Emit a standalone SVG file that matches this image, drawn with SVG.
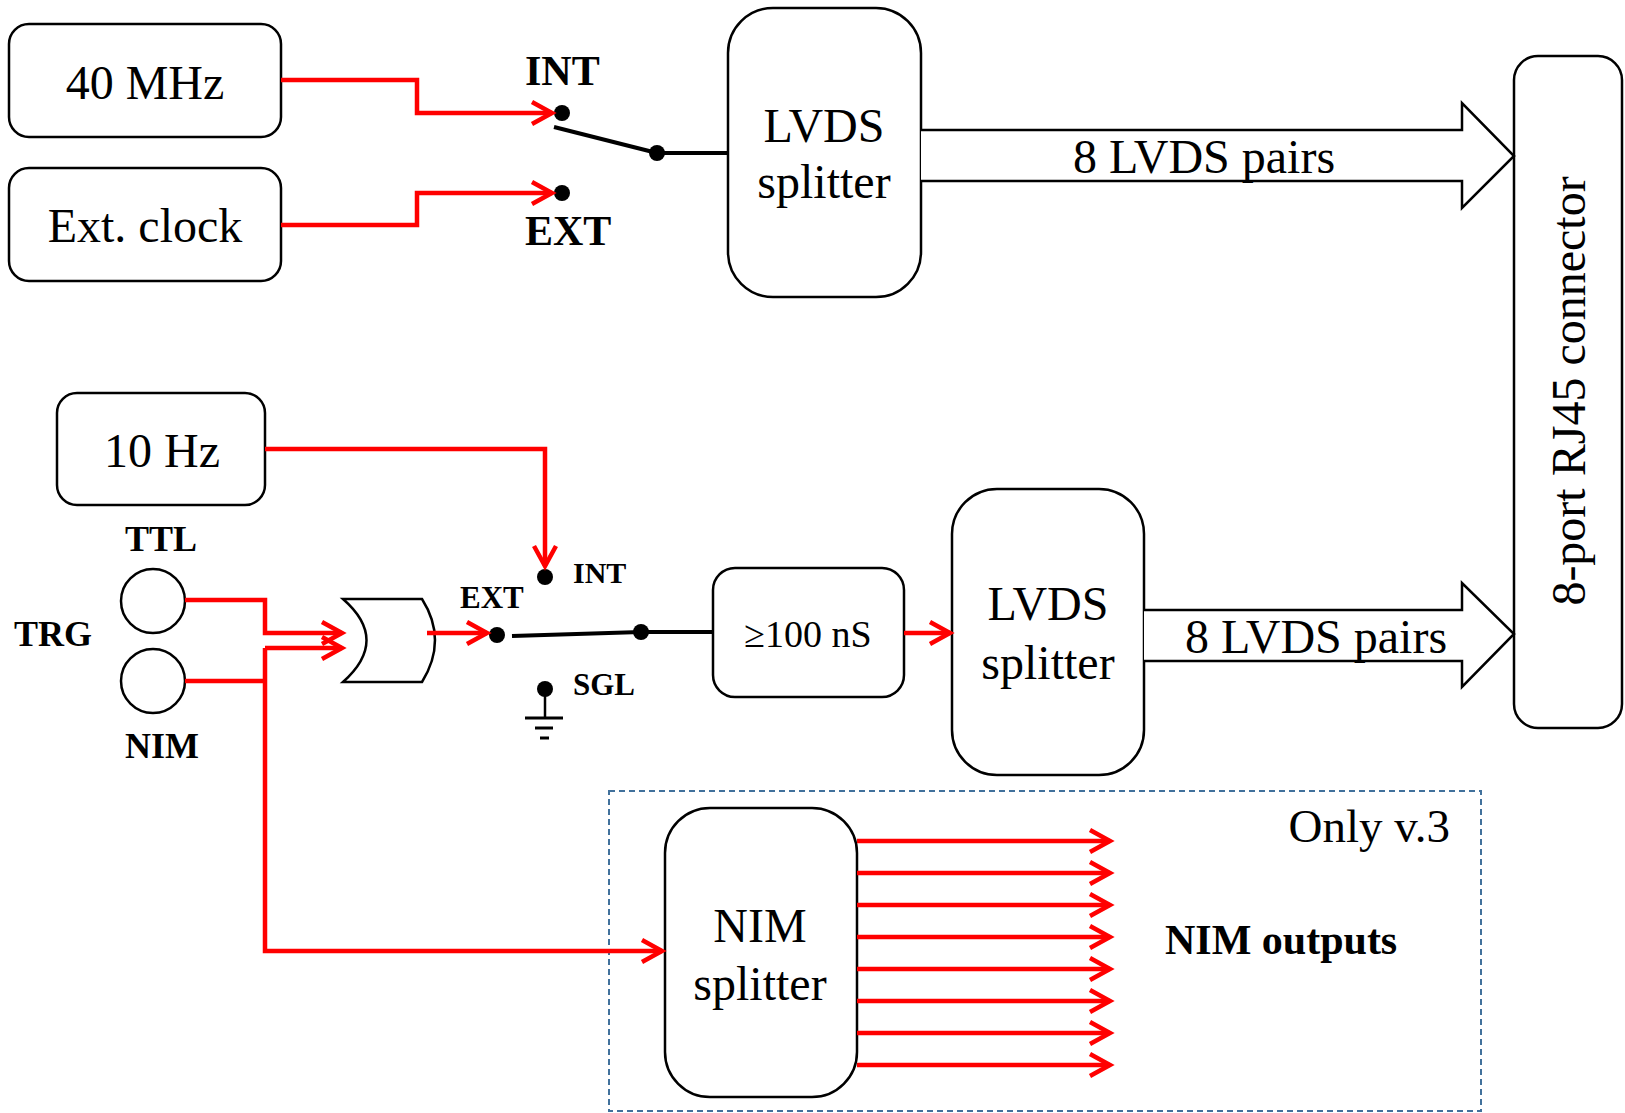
<svg xmlns="http://www.w3.org/2000/svg" width="1625" height="1113" viewBox="0 0 1625 1113">
<defs>
<style>
.box{fill:#fff;stroke:#000;stroke-width:2.5}
.t{font-family:"Liberation Serif","Times New Roman",serif;fill:#000}
.b{font-weight:bold}
.red{fill:none;stroke:#ff0000;stroke-width:4.5}
.ra{fill:none;stroke:#ff0000;stroke-width:4.5;marker-end:url(#ah)}
.blk{fill:none;stroke:#000;stroke-width:4}
.dot{fill:#000}
.big{fill:#fff;stroke:#000;stroke-width:2.5}
</style>
<marker id="ah" markerUnits="userSpaceOnUse" markerWidth="30" markerHeight="30" viewBox="-24 -15 30 30" refX="0" refY="0" orient="auto">
<path d="M-20,-11 L0,0 L-20,11" fill="none" stroke="#ff0000" stroke-width="4.5"/>
</marker>
</defs>

<g id="clock40">
<rect class="box" x="9" y="24" width="272" height="113" rx="20"/>
<text class="t" x="145" y="99" font-size="48" text-anchor="middle">40 MHz</text>
</g>
<g id="extclock">
<rect class="box" x="9" y="168" width="272" height="113" rx="20"/>
<text class="t" x="145" y="242" font-size="48" text-anchor="middle">Ext. clock</text>
</g>
<g id="switch1">
<circle class="dot" cx="562" cy="113" r="8"/>
<circle class="dot" cx="562" cy="193" r="8"/>
<circle class="dot" cx="657" cy="153" r="8"/>
<line class="blk" x1="554" y1="127" x2="657" y2="153"/>
<text class="t b" x="525" y="85" font-size="42">INT</text>
<text class="t b" x="525" y="245" font-size="42">EXT</text>
</g>
<g id="lvds1">
<rect class="box" x="728" y="8" width="193" height="289" rx="45"/>
<text class="t" x="824" y="142" font-size="48" text-anchor="middle">LVDS</text>
<text class="t" x="824" y="198" font-size="48" text-anchor="middle">splitter</text>
</g>
<g id="rj45">
<rect class="box" x="1514" y="56" width="108" height="672" rx="24"/>
<text class="t" x="0" y="0" font-size="48" text-anchor="middle" transform="translate(1585,391) rotate(-90)">8-port RJ45 connector</text>
</g>
<g id="clock10">
<rect class="box" x="57" y="393" width="208" height="112" rx="20"/>
<text class="t" x="162" y="467" font-size="48" text-anchor="middle">10 Hz</text>
</g>
<g id="trg">
<circle cx="153" cy="601" r="32" fill="#fff" stroke="#000" stroke-width="2.5"/>
<circle cx="153" cy="681" r="32" fill="#fff" stroke="#000" stroke-width="2.5"/>
<text class="t b" x="161" y="551" font-size="36" text-anchor="middle">TTL</text>
<text class="t b" x="14" y="646" font-size="36">TRG</text>
<text class="t b" x="162" y="758" font-size="36" text-anchor="middle">NIM</text>
</g>
<g id="orgate">
<path d="M343,599 L422,599 Q448,640 422,682 L343,682 Q390,640 343,599 Z" fill="#fff" stroke="#000" stroke-width="2.5"/>
</g>
<g id="switch2">
<circle class="dot" cx="545" cy="577" r="8"/>
<circle class="dot" cx="497" cy="635" r="8"/>
<circle class="dot" cx="545" cy="689" r="8"/>
<circle class="dot" cx="641" cy="632" r="8"/>
<line class="blk" x1="512" y1="636" x2="641" y2="632"/>
<line x1="545" y1="689" x2="545" y2="718" stroke="#000" stroke-width="2.5"/>
<line x1="525" y1="718" x2="563" y2="718" stroke="#000" stroke-width="3"/>
<line x1="535" y1="728" x2="553" y2="728" stroke="#000" stroke-width="3"/>
<line x1="540" y1="738" x2="549" y2="738" stroke="#000" stroke-width="3"/>
<text class="t b" x="573" y="583" font-size="30">INT</text>
<text class="t b" x="460" y="608" font-size="31">EXT</text>
<text class="t b" x="573" y="695" font-size="31">SGL</text>
</g>
<g id="delay">
<rect class="box" x="713" y="568" width="191" height="129" rx="22"/>
<text class="t" x="808" y="647" font-size="38" text-anchor="middle">≥100 nS</text>
</g>
<g id="lvds2">
<rect class="box" x="952" y="489" width="192" height="286" rx="45"/>
<text class="t" x="1048" y="620" font-size="48" text-anchor="middle">LVDS</text>
<text class="t" x="1048" y="679" font-size="48" text-anchor="middle">splitter</text>
</g>
<g id="v3">
<rect x="609" y="791" width="872" height="320" fill="none" stroke="#41719c" stroke-width="2" stroke-dasharray="6,4"/>
<text class="t" x="1450" y="842" font-size="47" text-anchor="end">Only v.3</text>
</g>
<g id="nimsplit">
<rect class="box" x="665" y="808" width="192" height="289" rx="45"/>
<text class="t" x="760" y="942" font-size="48" text-anchor="middle">NIM</text>
<text class="t" x="760" y="1000" font-size="48" text-anchor="middle">splitter</text>
</g>
<g id="nimout">
<text class="t b" x="1165" y="954" font-size="42">NIM outputs</text>
</g>

<g id="connectors">
<polyline class="ra" points="281,80 417,80 417,113 552,113"/>
<polyline class="ra" points="281,225 417,225 417,193 552,193"/>
<line class="blk" x1="657" y1="153" x2="728" y2="153"/>
<path class="big" d="M921,130 L1462,130 L1462,103 L1514,156 L1462,208 L1462,181 L921,181"/>
<text class="t" x="1204" y="173" font-size="48" text-anchor="middle">8 LVDS pairs</text>
<polyline class="ra" points="265,449 545,449 545,566"/>
<polyline class="ra" points="185,600 265,600 265,633 342,633"/>
<polyline class="red" points="185,681 265,681"/>
<polyline class="ra" points="265,648 342,648"/>
<polyline class="ra" points="265,648 265,951 662,951"/>
<line class="ra" x1="427" y1="633" x2="487" y2="633"/>
<line class="blk" x1="641" y1="632" x2="713" y2="632"/>
<line class="ra" x1="904" y1="633" x2="950" y2="633"/>
<path class="big" d="M1144,610 L1462,610 L1462,583 L1514,634 L1462,687 L1462,661 L1144,661"/>
<text class="t" x="1316" y="653" font-size="48" text-anchor="middle">8 LVDS pairs</text>
<line class="ra" x1="857" y1="841" x2="1110" y2="841"/>
<line class="ra" x1="857" y1="873" x2="1110" y2="873"/>
<line class="ra" x1="857" y1="905" x2="1110" y2="905"/>
<line class="ra" x1="857" y1="937" x2="1110" y2="937"/>
<line class="ra" x1="857" y1="969" x2="1110" y2="969"/>
<line class="ra" x1="857" y1="1001" x2="1110" y2="1001"/>
<line class="ra" x1="857" y1="1033" x2="1110" y2="1033"/>
<line class="ra" x1="857" y1="1065" x2="1110" y2="1065"/>
</g>
</svg>
